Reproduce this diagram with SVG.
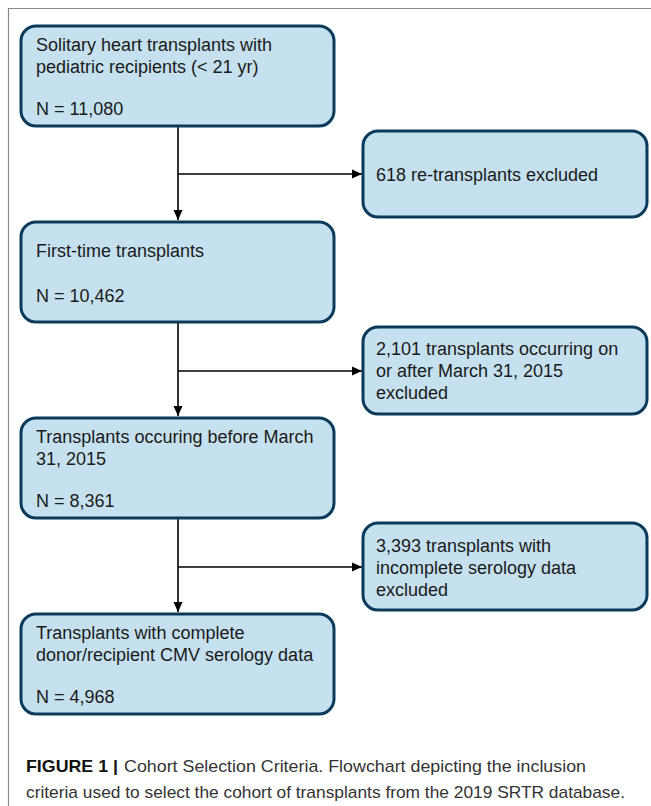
<svg xmlns="http://www.w3.org/2000/svg" width="651" height="806" viewBox="0 0 651 806">
<style>
.box{fill:#c5e1f0;stroke:#0c3a5c;stroke-width:3}
.t{font-family:"Liberation Sans",Arial,sans-serif;font-size:18px;fill:#1a1a1a}
.c{font-family:"Liberation Sans",Arial,sans-serif;font-size:17px;fill:#333}
.cb{font-weight:bold;fill:#111}
.ln{stroke:#000;stroke-width:1.6;fill:none}
.frame{stroke:#8a8a8a;stroke-width:1.2;fill:none}
</style>
<defs>
<marker id="ah" viewBox="0 0 10 10" refX="10" refY="5" markerWidth="10" markerHeight="10" markerUnits="userSpaceOnUse" orient="auto">
<path d="M0,0.5 L10,5 L0,9.5 Z" fill="#000"/>
</marker>
</defs>
<rect width="651" height="806" fill="#fff"/>
<path class="frame" d="M651,8.5 H8.5 V806"/>
<g id="connectors">
<path class="ln" d="M178,126 V220" marker-end="url(#ah)"/>
<path class="ln" d="M178,174 H362" marker-end="url(#ah)"/>
<path class="ln" d="M178,322 V416" marker-end="url(#ah)"/>
<path class="ln" d="M178,371 H362" marker-end="url(#ah)"/>
<path class="ln" d="M178,518 V612" marker-end="url(#ah)"/>
<path class="ln" d="M178,567 H362" marker-end="url(#ah)"/>
</g>
<g id="n1">
<rect class="box" x="21" y="26" width="313" height="100" rx="15"/>
<text class="t" x="36" y="51">Solitary heart transplants with</text>
<text class="t" x="36" y="73">pediatric recipients (&lt; 21 yr)</text>
<text class="t" x="36" y="115">N = 11,080</text>
</g>
<g id="n2">
<rect class="box" x="363" y="131" width="284" height="86" rx="15"/>
<text class="t" x="376" y="181">618 re-transplants excluded</text>
</g>
<g id="n3">
<rect class="box" x="21" y="222" width="313" height="100" rx="15"/>
<text class="t" x="36" y="257">First-time transplants</text>
<text class="t" x="36" y="302">N = 10,462</text>
</g>
<g id="n4">
<rect class="box" x="363" y="327" width="284" height="87" rx="15"/>
<text class="t" x="376" y="355">2,101 transplants occurring on</text>
<text class="t" x="376" y="377">or after March 31, 2015</text>
<text class="t" x="376" y="399">excluded</text>
</g>
<g id="n5">
<rect class="box" x="21" y="418" width="313" height="100" rx="15"/>
<text class="t" x="36" y="443">Transplants occuring before March</text>
<text class="t" x="36" y="465">31, 2015</text>
<text class="t" x="36" y="507">N = 8,361</text>
</g>
<g id="n6">
<rect class="box" x="363" y="523" width="284" height="87" rx="15"/>
<text class="t" x="376" y="552">3,393 transplants with</text>
<text class="t" x="376" y="574">incomplete serology data</text>
<text class="t" x="376" y="596">excluded</text>
</g>
<g id="n7">
<rect class="box" x="21" y="614" width="313" height="100" rx="15"/>
<text class="t" x="36" y="639">Transplants with complete</text>
<text class="t" x="36" y="661">donor/recipient CMV serology data</text>
<text class="t" x="36" y="703">N = 4,968</text>
</g>
<g id="caption">
<text class="c cb" x="26" y="772" textLength="92" lengthAdjust="spacingAndGlyphs">FIGURE 1 |</text>
<text class="c" x="124" y="772" textLength="462" lengthAdjust="spacingAndGlyphs">Cohort Selection Criteria. Flowchart depicting the inclusion</text>
<text class="c" x="26" y="798" textLength="599" lengthAdjust="spacingAndGlyphs">criteria used to select the cohort of transplants from the 2019 SRTR database.</text>
</g>
</svg>
